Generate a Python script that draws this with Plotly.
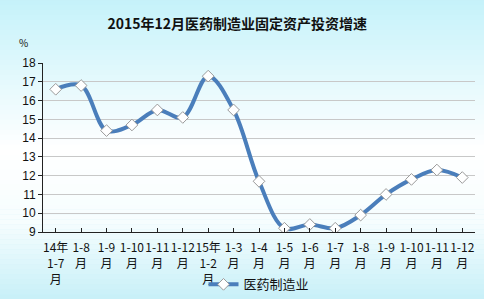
import plotly.graph_objects as go

categories = ["14年<br>1-7<br>月", "1-8<br>月", "1-9<br>月", "1-10<br>月", "1-11<br>月", "1-12<br>月",
              "15年<br>1-2<br>月", "1-3<br>月", "1-4<br>月", "1-5<br>月", "1-6<br>月", "1-7<br>月",
              "1-8<br>月", "1-9<br>月", "1-10<br>月", "1-11<br>月", "1-12<br>月"]
values = [16.6, 16.8, 14.4, 14.7, 15.5, 15.1, 17.3, 15.5, 11.7, 9.2, 9.4, 9.2, 9.9, 11.0, 11.8, 12.3, 11.9]
series_name = "医药制造业"
title_text = "2015年12月医药制造业固定资产投资增速"
y_ticks = list(range(9, 19))

x_idx = list(range(len(categories)))

fig = go.Figure()
fig.add_trace(go.Scatter(
    x=x_idx, y=values, mode="lines+markers", name=series_name,
    line=dict(color="#4a7ebb", width=4, shape="spline", smoothing=1.0),
    marker=dict(symbol="diamond", size=9, color="white", line=dict(color="#9a9a9a", width=1)),
))

# background vertical gradient (decoration)
def lerp(c1, c2, t):
    return tuple(int(round(a + (b - a) * t)) for a, b in zip(c1, c2))

stops = [(0.0, (197, 242, 250)), (0.50, (255, 255, 255)), (0.74, (246, 253, 254)), (1.0, (200, 240, 248))]
shapes = []
N = 60
for i in range(N):
    f0 = i / N
    f1 = (i + 1) / N
    fm = (f0 + f1) / 2
    for j in range(len(stops) - 1):
        if stops[j][0] <= fm <= stops[j + 1][0]:
            t = (fm - stops[j][0]) / (stops[j + 1][0] - stops[j][0])
            c = lerp(stops[j][1], stops[j + 1][1], t)
            break
    shapes.append(dict(type="rect", xref="paper", yref="paper", layer="below",
                       x0=-0.2, x1=1.2, y0=1.37 - f1 * 1.77, y1=1.37 - f0 * 1.77 + 0.002,
                       fillcolor="rgb(%d,%d,%d)" % c, line=dict(width=0)))

fig.update_layout(
    width=484, height=299,
    margin=dict(l=43, r=9, t=63, b=67, autoexpand=False),
    paper_bgcolor="rgb(200,240,248)",
    plot_bgcolor="rgba(0,0,0,0)",
    shapes=shapes,
    title=dict(text="<b>" + title_text + "</b>", x=0.49, xanchor="center", y=0.918, yanchor="middle",
               font=dict(family="Noto Sans CJK SC", size=14, color="#111")),
    font=dict(family="Noto Sans CJK SC", size=12, color="#111"),
    showlegend=True,
    legend=dict(orientation="h", x=0.5, xanchor="center", y=-0.31, yanchor="middle",
                bgcolor="rgba(0,0,0,0)", font=dict(size=13), itemwidth=30),
    annotations=[dict(text="%", xref="paper", yref="paper", x=-0.045, y=1.12, showarrow=False,
                      font=dict(size=10, color="#111"), xanchor="center", yanchor="middle")],
)
fig.update_xaxes(
    tickmode="array", tickvals=x_idx, ticktext=categories, tickangle=0, automargin=False,
    range=[-0.5, len(categories) - 0.5], ticklabelstandoff=5,
    showgrid=False, showline=True, linecolor="#222", linewidth=1,
    ticks="inside", ticklen=4, tickcolor="#222", tickson="boundaries",
    tickfont=dict(family="Noto Sans CJK SC", size=12), zeroline=False,
)
fig.update_yaxes(
    range=[9, 18], tickvals=y_ticks, showgrid=True, gridcolor="#c8c8c8", gridwidth=1, automargin=False,
    showline=True, linecolor="#222", linewidth=1, ticks="outside", ticklen=4, tickcolor="#222",
    tickfont=dict(family="Arial", size=12), zeroline=False,
)

fig.write_html("out.html")
